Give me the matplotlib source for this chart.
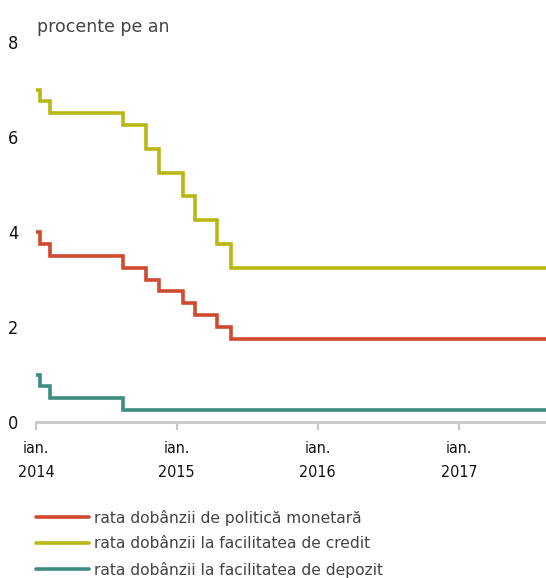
import matplotlib
matplotlib.use("Agg")
import matplotlib.pyplot as plt
import pandas as pd

# --- data ---
policy_dates = ["2014-01-01", "2014-01-11", "2014-02-06", "2014-08-14", "2014-10-12",
                "2014-11-17", "2015-01-18", "2015-02-18", "2015-04-16", "2015-05-22", "2017-12-31"]
policy_vals = [4.00, 3.75, 3.50, 3.25, 3.00, 2.75, 2.50, 2.25, 2.00, 1.75, 1.75]

credit_dates = policy_dates
credit_vals = [7.00, 6.75, 6.50, 6.25, 5.75, 5.25, 4.75, 4.25, 3.75, 3.25, 3.25]

deposit_dates = ["2014-01-01", "2014-01-11", "2014-02-06", "2014-08-14", "2017-12-31"]
deposit_vals = [1.00, 0.75, 0.50, 0.25, 0.25]

labels = ["rata dobânzii de politică monetară",
          "rata dobânzii la facilitatea de credit",
          "rata dobânzii la facilitatea de depozit"]
colors = ["#cf4a2e", "#b8b714", "#3d8c80"]

year_ticks = ["2014-01-01", "2015-01-01", "2016-01-01", "2017-01-01"]
year_labels = ["ian.\n2014", "ian.\n2015", "ian.\n2016", "ian.\n2017"]
y_ticks = [0, 2, 4, 6, 8]

fig = plt.figure(figsize=(5.46, 5.78), dpi=100)
ax = fig.add_axes([36 / 546, 156 / 578, 510 / 546, 380 / 578])

series = [(policy_dates, policy_vals), (credit_dates, credit_vals), (deposit_dates, deposit_vals)]
for (d, v), c, lab in zip(series, colors, labels):
    ax.step(pd.to_datetime(d), v, where="post", color=c, lw=2.6, label=lab,
            solid_joinstyle="miter", solid_capstyle="round")

ax.set_ylim(0, 8)
ax.set_xlim(pd.Timestamp("2014-01-01"), pd.Timestamp("2017-08-15"))
ax.set_yticks(y_ticks)
ax.set_yticklabels([str(t) for t in y_ticks], fontsize=13, color="#111111",
                   fontstretch="condensed")
ax.tick_params(axis="y", length=0, pad=13)
ax.set_xticks(pd.to_datetime(year_ticks))
ax.set_xticklabels(year_labels, fontsize=11.5, color="#111111", linespacing=1.7,
                   fontstretch="condensed")
ax.tick_params(axis="x", length=6, width=1.5, color="#c8c8c8", pad=8)

for s in ["top", "right", "left"]:
    ax.spines[s].set_visible(False)
ax.spines["bottom"].set_color("#c8c8c8")
ax.spines["bottom"].set_linewidth(2)

fig.text(37 / 546, 1 - 27 / 578, "procente pe an", fontsize=12.5, color="#444444",
         va="center", ha="left")

handles, labs = ax.get_legend_handles_labels()
fig.legend(handles, labs, loc="upper left", bbox_to_anchor=(28 / 546, 1 - 502 / 578),
           frameon=False, fontsize=11.2, handlelength=3.4, handletextpad=0.35,
           labelspacing=0.68, borderpad=0, labelcolor="#444444")

fig.savefig("out.png", dpi=100)
